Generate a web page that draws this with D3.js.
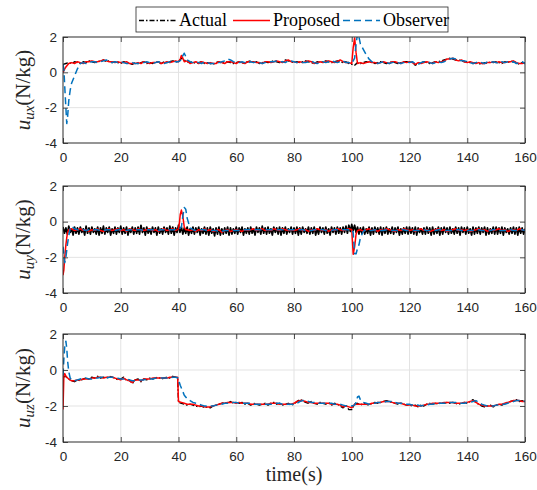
<!DOCTYPE html>
<html>
<head>
<meta charset="utf-8">
<script src="https://cdn.jsdelivr.net/npm/d3@7"></script>
<style>
  body { margin: 0; background: #fff; }
  svg { display: block; }
</style>
</head>
<body>
<div id="chart"></div>
<script>
// ---- data: values on a regular grid (1 s, or 0.5 s for the noisy uy actual),
// plus extra samples near the transients
var xTicks = [0, 20, 40, 60, 80, 100, 120, 140, 160];
var yTicks = [-4, -2, 0, 2];
var seriesNames = ["Actual", "Proposed", "Observer"];

var uxActual = [
  0.45,0.5,0.55,0.5,0.6,0.55,0.5,0.6,0.55,0.65,
  0.6,0.55,0.65,0.6,0.7,0.6,0.65,0.55,0.6,0.55,
  0.5,0.6,0.55,0.5,0.45,0.55,0.5,0.55,0.6,0.5,
  0.55,0.5,0.6,0.55,0.5,0.6,0.55,0.6,0.65,0.6,
  0.6,0.8,0.7,0.6,0.55,0.6,0.5,0.55,0.6,0.5,
  0.55,0.5,0.45,0.55,0.6,0.5,0.55,0.6,0.55,0.5,
  0.55,0.6,0.5,0.55,0.6,0.65,0.55,0.6,0.5,0.55,
  0.6,0.55,0.6,0.65,0.6,0.55,0.6,0.7,0.65,0.6,
  0.55,0.6,0.55,0.6,0.65,0.6,0.55,0.5,0.6,0.55,
  0.6,0.65,0.6,0.55,0.6,0.65,0.6,0.55,0.6,0.5,
  0.45,0.4,0.55,0.5,0.55,0.6,0.55,0.6,0.5,0.55,
  0.6,0.55,0.5,0.55,0.6,0.55,0.5,0.55,0.6,0.6,
  0.55,0.6,0.4,0.5,0.55,0.6,0.55,0.5,0.55,0.6,
  0.6,0.65,0.7,0.75,0.8,0.75,0.7,0.7,0.65,0.6,
  0.6,0.55,0.5,0.55,0.5,0.45,0.55,0.5,0.6,0.55,
  0.6,0.55,0.5,0.6,0.55,0.65,0.6,0.55,0.45,0.55,0.5];
var uxActualExtra = [];

var uxProposed = [
  0.0,0.3,0.5,0.55,0.5,0.6,0.55,0.5,0.6,0.6,
  0.65,0.6,0.6,0.65,0.7,0.65,0.6,0.6,0.55,0.6,
  0.55,0.55,0.6,0.5,0.5,0.5,0.55,0.5,0.6,0.55,
  0.5,0.55,0.55,0.6,0.5,0.55,0.6,0.55,0.6,0.65,
  0.6,0.95,0.6,0.65,0.5,0.55,0.6,0.5,0.6,0.55,
  0.5,0.55,0.5,0.5,0.6,0.55,0.5,0.6,0.6,0.55,
  0.5,0.6,0.55,0.5,0.6,0.6,0.6,0.55,0.55,0.5,
  0.6,0.6,0.55,0.6,0.65,0.6,0.55,0.65,0.7,0.6,
  0.6,0.55,0.6,0.55,0.6,0.65,0.6,0.5,0.55,0.6,
  0.55,0.6,0.65,0.6,0.55,0.6,0.7,0.6,0.55,0.55,
  0.5,1.95,0.5,0.55,0.5,0.55,0.6,0.55,0.55,0.5,
  0.55,0.6,0.55,0.5,0.6,0.6,0.55,0.5,0.6,0.55,
  0.6,0.55,0.45,0.55,0.5,0.55,0.6,0.55,0.5,0.6,
  0.55,0.6,0.65,0.75,0.75,0.8,0.7,0.65,0.7,0.6,
  0.55,0.6,0.55,0.5,0.55,0.5,0.5,0.55,0.55,0.6,
  0.55,0.6,0.55,0.55,0.6,0.6,0.65,0.55,0.5,0.5,0.55];
var uxProposedExtra = [[0.3,0.1],[0.6,0.2],[40.6,0.75],[41.5,0.8],[100.5,1.4],[101.5,1.1]];

var uxObserver = [
  0.45,-2.0,-1.6,-0.6,-0.2,0.2,0.5,0.55,0.5,0.55,
  0.6,0.6,0.55,0.6,0.65,0.7,0.6,0.55,0.6,0.55,
  0.6,0.55,0.5,0.5,0.55,0.5,0.5,0.55,0.55,0.6,
  0.55,0.5,0.55,0.6,0.55,0.5,0.55,0.6,0.65,0.6,
  0.6,0.7,1.08,0.7,0.6,0.55,0.6,0.55,0.5,0.6,
  0.55,0.5,0.5,0.5,0.55,0.6,0.65,0.75,0.7,0.6,
  0.55,0.55,0.6,0.55,0.5,0.6,0.55,0.6,0.55,0.5,
  0.55,0.6,0.6,0.6,0.65,0.6,0.6,0.55,0.65,0.65,
  0.6,0.55,0.6,0.55,0.55,0.6,0.65,0.55,0.5,0.55,
  0.6,0.55,0.6,0.65,0.6,0.55,0.6,0.65,0.55,0.55,
  0.5,0.8,2.2,1.6,1.3,1.0,0.75,0.6,0.55,0.5,
  0.55,0.6,0.55,0.5,0.55,0.6,0.55,0.5,0.55,0.6,
  0.55,0.6,0.5,0.45,0.55,0.6,0.6,0.55,0.5,0.55,
  0.6,0.55,0.6,0.7,0.75,0.8,0.75,0.7,0.65,0.65,
  0.6,0.55,0.5,0.55,0.6,0.55,0.5,0.6,0.55,0.6,
  0.55,0.5,0.6,0.55,0.6,0.55,0.6,0.5,0.55,0.6,0.5];
var uxObserverExtra = [[0.3,0.2],[0.6,-0.8],[1.3,-2.9],[1.6,-2.5],[2.5,-1.0],[41.5,0.95],[42.5,0.9],[101.5,1.6],[102.5,2.0]];

// half-second samples, one row = 5 s
var uyActual = [
  -0.3,-0.65,-0.35,-0.7,-0.25,-0.6,-0.4,-0.75,-0.3,-0.65,
  -0.35,-0.7,-0.3,-0.6,-0.4,-0.75,-0.25,-0.65,-0.35,-0.7,
  -0.3,-0.6,-0.4,-0.7,-0.3,-0.75,-0.35,-0.65,-0.25,-0.7,
  -0.35,-0.6,-0.3,-0.75,-0.4,-0.65,-0.3,-0.7,-0.35,-0.6,
  -0.25,-0.7,-0.35,-0.65,-0.3,-0.75,-0.4,-0.6,-0.3,-0.7,
  -0.35,-0.65,-0.3,-0.7,-0.2,-0.6,-0.35,-0.75,-0.3,-0.65,
  -0.4,-0.7,-0.3,-0.6,-0.35,-0.75,-0.3,-0.65,-0.4,-0.7,
  -0.3,-0.6,-0.35,-0.7,-0.25,-0.65,-0.3,-0.75,-0.35,-0.6,
  -0.2,-0.6,-0.3,-0.7,-0.35,-0.65,-0.3,-0.75,-0.4,-0.65,
  -0.3,-0.7,-0.35,-0.6,-0.3,-0.75,-0.4,-0.65,-0.3,-0.7,
  -0.35,-0.75,-0.3,-0.65,-0.4,-0.8,-0.35,-0.7,-0.3,-0.75,
  -0.4,-0.7,-0.35,-0.65,-0.3,-0.75,-0.35,-0.7,-0.4,-0.65,
  -0.3,-0.7,-0.35,-0.6,-0.3,-0.75,-0.4,-0.65,-0.35,-0.7,
  -0.3,-0.65,-0.4,-0.75,-0.3,-0.6,-0.35,-0.7,-0.25,-0.65,
  -0.35,-0.7,-0.3,-0.65,-0.4,-0.75,-0.3,-0.6,-0.35,-0.7,
  -0.3,-0.75,-0.35,-0.65,-0.3,-0.7,-0.4,-0.6,-0.3,-0.7,
  -0.35,-0.65,-0.3,-0.75,-0.35,-0.7,-0.3,-0.6,-0.4,-0.65,
  -0.3,-0.7,-0.35,-0.65,-0.3,-0.75,-0.4,-0.7,-0.3,-0.6,
  -0.35,-0.7,-0.3,-0.65,-0.4,-0.75,-0.3,-0.6,-0.35,-0.7,
  -0.3,-0.65,-0.35,-0.7,-0.3,-0.6,-0.25,-0.65,-0.2,-0.55,
  -0.15,-0.5,-0.2,-0.6,-0.3,-0.7,-0.35,-0.65,-0.3,-0.7,
  -0.4,-0.65,-0.3,-0.75,-0.35,-0.7,-0.3,-0.6,-0.35,-0.7,
  -0.3,-0.75,-0.35,-0.65,-0.3,-0.7,-0.4,-0.65,-0.3,-0.7,
  -0.35,-0.6,-0.3,-0.75,-0.4,-0.7,-0.35,-0.65,-0.3,-0.7,
  -0.3,-0.65,-0.35,-0.7,-0.3,-0.75,-0.35,-0.6,-0.4,-0.7,
  -0.35,-0.7,-0.3,-0.65,-0.35,-0.75,-0.3,-0.7,-0.4,-0.65,
  -0.3,-0.75,-0.35,-0.7,-0.3,-0.6,-0.35,-0.7,-0.3,-0.65,
  -0.4,-0.7,-0.3,-0.65,-0.35,-0.75,-0.3,-0.6,-0.35,-0.7,
  -0.3,-0.65,-0.4,-0.75,-0.3,-0.7,-0.35,-0.65,-0.3,-0.7,
  -0.35,-0.6,-0.3,-0.75,-0.35,-0.7,-0.4,-0.65,-0.3,-0.7,
  -0.3,-0.7,-0.35,-0.65,-0.3,-0.75,-0.35,-0.6,-0.4,-0.7,
  -0.35,-0.65,-0.3,-0.7,-0.35,-0.75,-0.3,-0.65,-0.35,-0.7,-0.4];
var uyActualExtra = [];

var uyProposed = [
  -3.0,-1.3,-0.45,-0.4,-0.5,-0.45,-0.4,-0.5,-0.45,-0.55,
  -0.45,-0.5,-0.4,-0.5,-0.55,-0.45,-0.4,-0.5,-0.45,-0.4,
  -0.5,-0.45,-0.55,-0.4,-0.45,-0.5,-0.4,-0.45,-0.5,-0.45,
  -0.4,-0.5,-0.45,-0.55,-0.45,-0.4,-0.5,-0.45,-0.4,-0.5,
  -0.4,0.65,-0.3,-0.45,-0.5,-0.45,-0.55,-0.45,-0.5,-0.4,
  -0.5,-0.45,-0.55,-0.5,-0.45,-0.6,-0.5,-0.45,-0.55,-0.5,
  -0.45,-0.5,-0.55,-0.45,-0.5,-0.45,-0.4,-0.5,-0.45,-0.4,
  -0.5,-0.45,-0.5,-0.4,-0.45,-0.5,-0.4,-0.45,-0.5,-0.45,
  -0.5,-0.45,-0.4,-0.5,-0.45,-0.55,-0.45,-0.5,-0.4,-0.45,
  -0.5,-0.45,-0.55,-0.45,-0.5,-0.4,-0.45,-0.5,-0.45,-0.4,
  -0.45,-1.4,-0.5,-0.45,-0.55,-0.45,-0.4,-0.5,-0.45,-0.55,
  -0.45,-0.5,-0.4,-0.45,-0.5,-0.55,-0.45,-0.5,-0.4,-0.45,
  -0.5,-0.45,-0.55,-0.45,-0.4,-0.5,-0.45,-0.55,-0.5,-0.45,
  -0.4,-0.5,-0.45,-0.55,-0.5,-0.45,-0.4,-0.5,-0.45,-0.5,
  -0.45,-0.55,-0.5,-0.45,-0.4,-0.5,-0.45,-0.55,-0.45,-0.5,
  -0.45,-0.4,-0.5,-0.45,-0.55,-0.5,-0.45,-0.5,-0.4,-0.45,-0.5];
var uyProposedExtra = [[0.3,-2.7],[0.6,-2.0],[1.3,-0.9],[1.6,-0.6],[40.3,-0.1],[40.6,0.4],[41.5,0.3],[42.5,-0.45],[100.5,-1.83],[101.5,-0.7]];

var uyObserver = [
  -1.4,-2.0,-0.8,-0.25,-0.4,-0.45,-0.5,-0.45,-0.5,-0.45,
  -0.5,-0.45,-0.45,-0.5,-0.5,-0.45,-0.45,-0.45,-0.5,-0.45,
  -0.45,-0.5,-0.5,-0.45,-0.45,-0.45,-0.45,-0.45,-0.5,-0.45,
  -0.45,-0.45,-0.5,-0.5,-0.45,-0.45,-0.45,-0.45,-0.45,-0.45,
  -0.45,-0.3,0.8,0.2,-0.35,-0.45,-0.5,-0.5,-0.45,-0.45,
  -0.5,-0.5,-0.5,-0.5,-0.55,-0.55,-0.5,-0.5,-0.5,-0.5,
  -0.5,-0.5,-0.5,-0.45,-0.45,-0.45,-0.45,-0.45,-0.45,-0.45,
  -0.45,-0.45,-0.45,-0.45,-0.45,-0.45,-0.45,-0.45,-0.45,-0.45,
  -0.45,-0.45,-0.45,-0.45,-0.5,-0.5,-0.5,-0.45,-0.45,-0.45,
  -0.45,-0.5,-0.5,-0.5,-0.45,-0.45,-0.45,-0.45,-0.45,-0.45,
  -0.45,-1.8,-1.5,-0.9,-0.55,-0.45,-0.5,-0.5,-0.45,-0.5,
  -0.5,-0.5,-0.45,-0.45,-0.5,-0.5,-0.5,-0.45,-0.45,-0.5,
  -0.5,-0.5,-0.5,-0.5,-0.45,-0.45,-0.5,-0.5,-0.5,-0.5,
  -0.45,-0.45,-0.5,-0.5,-0.5,-0.5,-0.45,-0.45,-0.5,-0.5,
  -0.5,-0.5,-0.5,-0.45,-0.45,-0.5,-0.5,-0.5,-0.5,-0.45,
  -0.45,-0.5,-0.5,-0.5,-0.45,-0.45,-0.5,-0.5,-0.45,-0.45,-0.5];
var uyObserverExtra = [[0.3,-1.8],[0.6,-2.3],[1.3,-1.6],[1.6,-1.2],[2.5,-0.35],[41.5,0.3],[42.5,0.7],[100.5,-0.6],[101.5,-1.8],[102.5,-1.3]];

var uzActual = [
  -0.4,-0.35,-0.5,-0.6,-0.65,-0.55,-0.6,-0.5,-0.45,-0.5,
  -0.4,-0.45,-0.35,-0.45,-0.4,-0.45,-0.35,-0.4,-0.45,-0.55,
  -0.5,-0.4,-0.6,-0.55,-0.75,-0.55,-0.5,-0.65,-0.5,-0.55,
  -0.45,-0.5,-0.45,-0.4,-0.5,-0.45,-0.4,-0.45,-0.35,-0.4,
  -1.8,-1.85,-1.9,-1.95,-1.9,-1.95,-2.0,-2.05,-2.0,-2.1,
  -2.05,-2.1,-2.0,-1.95,-1.9,-1.85,-1.8,-1.85,-1.75,-1.85,
  -1.8,-1.85,-1.8,-1.9,-1.85,-1.95,-1.85,-1.9,-1.95,-1.9,
  -1.85,-1.95,-1.85,-1.8,-1.9,-1.85,-1.95,-1.9,-1.85,-1.95,
  -1.9,-1.75,-1.65,-1.7,-1.8,-1.85,-1.75,-1.85,-1.9,-1.8,
  -1.85,-1.9,-1.8,-1.95,-1.85,-1.9,-2.0,-2.1,-1.95,-2.2,
  -2.2,-1.9,-1.85,-1.95,-1.85,-1.9,-1.95,-1.85,-1.8,-1.85,
  -1.8,-1.75,-1.7,-1.75,-1.8,-1.85,-1.9,-1.85,-1.9,-1.95,
  -1.95,-2.0,-1.95,-2.05,-1.95,-2.0,-1.9,-1.85,-1.9,-1.85,
  -1.9,-1.8,-1.85,-1.8,-1.85,-1.8,-1.85,-1.9,-1.85,-1.8,
  -1.85,-1.75,-1.65,-1.8,-1.9,-2.0,-2.05,-2.0,-1.95,-2.05,
  -1.95,-1.9,-1.95,-1.85,-1.8,-1.75,-1.7,-1.65,-1.75,-1.7,-1.8];
var uzActualExtra = [[39.7,-0.45]];

var uzProposed = [
  -2.2,-0.35,-0.5,-0.6,-0.6,-0.55,-0.55,-0.5,-0.5,-0.5,
  -0.45,-0.45,-0.4,-0.4,-0.45,-0.4,-0.4,-0.4,-0.45,-0.5,
  -0.55,-0.45,-0.55,-0.6,-0.7,-0.55,-0.55,-0.6,-0.5,-0.5,
  -0.5,-0.45,-0.45,-0.45,-0.45,-0.45,-0.45,-0.4,-0.4,-0.4,
  -1.75,-1.8,-1.85,-1.9,-1.9,-1.9,-1.95,-2.0,-2.0,-2.05,
  -2.05,-2.05,-2.0,-1.95,-1.9,-1.85,-1.85,-1.8,-1.8,-1.8,
  -1.85,-1.8,-1.85,-1.85,-1.85,-1.9,-1.9,-1.9,-1.9,-1.9,
  -1.9,-1.9,-1.85,-1.85,-1.85,-1.9,-1.9,-1.9,-1.9,-1.9,
  -1.85,-1.75,-1.7,-1.7,-1.75,-1.8,-1.8,-1.85,-1.85,-1.85,
  -1.85,-1.85,-1.85,-1.9,-1.9,-1.9,-1.95,-2.05,-2.0,-2.05,
  -2.1,-1.9,-1.9,-1.9,-1.9,-1.9,-1.9,-1.85,-1.85,-1.8,
  -1.8,-1.75,-1.75,-1.75,-1.8,-1.85,-1.85,-1.85,-1.9,-1.95,
  -1.95,-1.95,-2.0,-2.0,-2.0,-1.95,-1.9,-1.9,-1.85,-1.85,
  -1.85,-1.85,-1.8,-1.8,-1.8,-1.8,-1.85,-1.85,-1.85,-1.8,
  -1.8,-1.75,-1.7,-1.8,-1.9,-1.95,-2.0,-2.0,-2.0,-2.0,
  -1.95,-1.9,-1.9,-1.85,-1.8,-1.75,-1.7,-1.7,-1.7,-1.75,-1.75];
var uzProposedExtra = [[0.3,-0.3],[0.6,-0.2],[1.3,-0.4],[39.7,-0.4]];

var uzObserver = [
  -0.3,1.6,-0.1,-0.55,-0.6,-0.55,-0.5,-0.45,-0.45,-0.5,
  -0.5,-0.45,-0.45,-0.4,-0.4,-0.45,-0.4,-0.4,-0.4,-0.45,
  -0.5,-0.5,-0.5,-0.55,-0.6,-0.6,-0.55,-0.55,-0.55,-0.5,
  -0.5,-0.5,-0.45,-0.45,-0.45,-0.45,-0.45,-0.45,-0.4,-0.4,
  -0.45,-1.0,-1.4,-1.6,-1.7,-1.8,-1.85,-1.9,-1.95,-2.0,
  -2.0,-2.0,-2.0,-1.95,-1.95,-1.9,-1.85,-1.85,-1.8,-1.8,
  -1.8,-1.85,-1.85,-1.85,-1.85,-1.85,-1.9,-1.9,-1.9,-1.9,
  -1.9,-1.9,-1.9,-1.85,-1.85,-1.85,-1.9,-1.9,-1.9,-1.9,
  -1.9,-1.85,-1.75,-1.7,-1.7,-1.75,-1.8,-1.8,-1.85,-1.85,
  -1.85,-1.85,-1.85,-1.85,-1.9,-1.9,-1.9,-1.95,-2.0,-2.0,
  -2.0,-1.95,-1.5,-1.65,-1.8,-1.85,-1.9,-1.85,-1.85,-1.8,
  -1.8,-1.8,-1.75,-1.75,-1.75,-1.8,-1.85,-1.85,-1.85,-1.9,
  -1.9,-1.95,-1.95,-1.95,-2.0,-1.95,-1.95,-1.9,-1.9,-1.85,
  -1.85,-1.85,-1.85,-1.8,-1.8,-1.8,-1.8,-1.85,-1.85,-1.85,
  -1.8,-1.8,-1.75,-1.7,-1.8,-1.9,-1.95,-2.0,-2.0,-2.0,
  -1.95,-1.95,-1.9,-1.9,-1.85,-1.8,-1.75,-1.7,-1.7,-1.7,-1.75];
var uzObserverExtra = [[0.3,0.6],[0.6,1.3],[1.3,1.2],[1.6,0.5],[2.5,-0.45],[40.3,-0.7],[40.6,-0.85],[41.5,-1.2],[42.5,-1.5],[101.5,-1.8],[102.5,-1.45]];

// ---- layout
var W = 537, H = 490;
var left = 63, right = 525;
// each series: [values, extra points, sample step (s), dense (dash pattern merges to solid)]
var panels = [
  {top: 37,  bottom: 143, sub: "ux", data: [[uxActual, uxActualExtra, 1, false], [uxProposed, uxProposedExtra, 1], [uxObserver, uxObserverExtra, 1]]},
  {top: 186, bottom: 293, sub: "uy", data: [[uyActual, uyActualExtra, 0.5, true], [uyProposed, uyProposedExtra, 1], [uyObserver, uyObserverExtra, 1]]},
  {top: 334, bottom: 442, sub: "uz", data: [[uzActual, uzActualExtra, 1, false], [uzProposed, uzProposedExtra, 1], [uzObserver, uzObserverExtra, 1]]}
];
var styles = [
  {color: "#000000", dash: "5,2,1.5,2", width: 1.4},
  {color: "#ff0000", dash: null, width: 1.5},
  {color: "#0072bd", dash: "7,4", width: 1.5}
];
var axisColor = "#262626";
var gridColor = "#e3e3e3";
var serif = "'Liberation Serif', 'Times New Roman', serif";
var sans = "'Liberation Sans', Arial, Helvetica, sans-serif";

function merge(base, extra, step) {
  var pts = base.map(function(v, i) { return [i * step, v]; }).concat(extra);
  pts.sort(function(a, b) { return a[0] - b[0]; });
  return pts;
}

var svg = d3.select("#chart").append("svg")
  .attr("width", W).attr("height", H);
svg.append("rect").attr("width", W).attr("height", H).attr("fill", "#fff");

var x = d3.scaleLinear().domain([0, 160]).range([left, right]);

panels.forEach(function(p, k) {
  var y = d3.scaleLinear().domain([-4, 2]).range([p.bottom, p.top]);
  var g = svg.append("g");

  // grid
  g.selectAll(".vg").data(xTicks).enter().append("line")
    .attr("x1", function(d) { return x(d); }).attr("x2", function(d) { return x(d); })
    .attr("y1", p.top).attr("y2", p.bottom)
    .attr("stroke", gridColor).attr("stroke-width", 1);
  g.selectAll(".hg").data(yTicks).enter().append("line")
    .attr("y1", function(d) { return y(d); }).attr("y2", function(d) { return y(d); })
    .attr("x1", left).attr("x2", right)
    .attr("stroke", gridColor).attr("stroke-width", 1);

  // clip
  svg.append("clipPath").attr("id", "clip" + k).append("rect")
    .attr("x", left).attr("y", p.top).attr("width", right - left).attr("height", p.bottom - p.top);

  var line = d3.line()
    .x(function(d) { return x(d[0]); })
    .y(function(d) { return y(d[1]); });

  p.data.forEach(function(s, i) {
    var st = styles[i];
    g.append("path")
      .datum(merge(s[0], s[1], s[2]))
      .attr("clip-path", "url(#clip" + k + ")")
      .attr("d", line)
      .attr("fill", "none")
      .attr("stroke", st.color)
      .attr("stroke-width", s[3] ? 1.7 : st.width)
      .attr("stroke-linejoin", "round")
      .attr("stroke-dasharray", s[3] ? null : st.dash);
  });

  // axes (ticks point inward, box on)
  var fmt = function(d) { return String(d); };
  var ax = g.append("g").attr("transform", "translate(0," + p.bottom + ")")
    .call(d3.axisBottom(x).tickValues(xTicks).tickFormat(fmt).tickSizeInner(-5).tickSizeOuter(0).tickPadding(9));
  var ay = g.append("g").attr("transform", "translate(" + left + ",0)")
    .call(d3.axisLeft(y).tickValues(yTicks).tickFormat(fmt).tickSizeInner(-5).tickSizeOuter(0).tickPadding(6));
  var at = g.append("g").attr("transform", "translate(0," + p.top + ")")
    .call(d3.axisTop(x).tickValues(xTicks).tickSizeInner(-5).tickSizeOuter(0).tickFormat(""));
  var ar = g.append("g").attr("transform", "translate(" + right + ",0)")
    .call(d3.axisRight(y).tickValues(yTicks).tickSizeInner(-5).tickSizeOuter(0).tickFormat(""));
  [ax, ay, at, ar].forEach(function(a) {
    a.select(".domain").remove();
    a.selectAll("line").attr("stroke", axisColor).attr("stroke-width", 0.8);
    a.selectAll("text").attr("fill", axisColor)
      .style("font-family", sans).style("font-size", "13.5px");
  });
  g.append("rect")
    .attr("x", left).attr("y", p.top)
    .attr("width", right - left).attr("height", p.bottom - p.top)
    .attr("fill", "none").attr("stroke", axisColor).attr("stroke-width", 0.9);

  // y label
  var cy = (p.top + p.bottom) / 2;
  var lab = svg.append("text")
    .attr("transform", "translate(30," + cy + ")rotate(-90)")
    .attr("text-anchor", "middle")
    .style("font-family", serif).style("font-size", "21px")
    .attr("fill", axisColor);
  lab.append("tspan").style("font-style", "italic").text("u");
  lab.append("tspan").style("font-style", "italic").style("font-size", "15px")
    .attr("dy", 4).text(p.sub);
  lab.append("tspan").attr("dy", -4).text("(N/kg)");
});

// x label
svg.append("text")
  .attr("x", (left + right) / 2).attr("y", 481)
  .attr("text-anchor", "middle")
  .style("font-family", serif).style("font-size", "20px")
  .attr("fill", axisColor)
  .text("time(s)");

// legend
var lg = svg.append("g");
lg.append("rect")
  .attr("x", 136).attr("y", 7).attr("width", 312).attr("height", 25)
  .attr("fill", "#fff").attr("stroke", axisColor).attr("stroke-width", 0.8);
var legX = [139, 233, 343];
seriesNames.forEach(function(name, i) {
  var st = styles[i];
  lg.append("line")
    .attr("x1", legX[i]).attr("x2", legX[i] + 37)
    .attr("y1", 20.5).attr("y2", 20.5)
    .attr("stroke", st.color).attr("stroke-width", st.width)
    .attr("stroke-dasharray", st.dash);
  lg.append("text")
    .attr("x", legX[i] + 40).attr("y", 26)
    .style("font-family", serif).style("font-size", "18px")
    .attr("fill", "#000")
    .text(name);
});
</script>
</body>
</html>
